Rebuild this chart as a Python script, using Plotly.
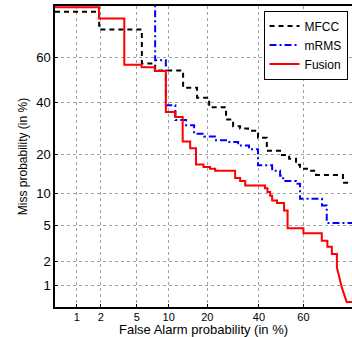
import plotly.graph_objects as go
from statistics import NormalDist

nd = NormalDist()
def probit(v):
    return [nd.inv_cdf(p / 100.0) for p in v]

tick_vals = [1, 2, 5, 10, 20, 40, 60]
tick_text = ["1", "2", "5", "10", "20", "40", "60"]

# MFCC (step points, horizontal-then-vertical), values in %
mfcc_fa = [0.5, 1.91, 5.63, 7.56, 13.2, 16.9, 20.6, 26.5, 29.2, 32.0, 35.3, 39.6, 43.5,
           49.5, 53.6, 56.7, 58.5, 62.0, 65.4, 75.9, 80]
mfcc_miss = [78.1, 71.75, 57.5, 54.3, 46.6, 42.1, 37.95, 32.7, 30.05, 29.1, 28.3, 25.65, 21.1,
             19.8, 18.6, 16.8, 15.7, 15.2, 14.1, 12.2, 12.2]

# mRMS (step points)
mrms_fa = [7.56, 7.56, 9.45, 11.4, 13.95, 16.07, 19.0, 22.9, 27.3, 31.2, 35.7, 39.6, 45.9,
           49.5, 50.9, 56.7, 58.5, 67.9, 69.8, 80]
mrms_miss = [99, 58.9, 38.8, 32.5, 30.4, 27.1, 26.1, 24.7, 24.1, 22.9, 21.6, 16.7, 15.2,
             13.9, 12.6, 11.95, 8.88, 7.75, 5.25, 5.25]

# Fusion (polyline vertices)
fusion_fa = [0.5, 1.9, 1.9, 3.7, 3.7, 5.6, 5.6, 7.5, 7.5, 9.45, 9.45, 11.4, 11.4, 13.1, 13.1,
             15.0, 15.0, 16.6, 16.6, 18.8, 18.8, 20.9, 20.9, 22.6, 22.6, 30.0, 30.0, 32.0, 32.0,
             34.1, 34.1, 42.7, 42.7, 43.8, 43.8, 45.0, 45.0, 45.9, 45.9, 48.1, 48.1, 51.3, 51.3,
             52.9, 52.9, 60.0, 60.0, 67.8, 67.8, 70.05, 70.05, 71.8, 71.8, 73.7, 73.7, 75.5,
             77.2, 80]
fusion_miss = [79.6, 79.6, 75.8, 75.8, 56.9, 56.9, 55.8, 55.8, 54.1, 54.1, 35.9, 35.9, 33.8,
               33.8, 24.3, 24.3, 22.0, 22.0, 16.9, 16.9, 16.2, 16.2, 15.7, 15.7, 15.2, 15.2, 13.3,
               13.3, 12.6, 12.6, 11.6, 11.6, 11.0, 11.0, 10.2, 10.2, 9.44, 9.44, 8.6, 8.6, 8.17,
               8.17, 6.95, 6.95, 4.63, 4.63, 4.1, 4.1, 3.42, 3.42, 2.93, 2.93, 2.42, 2.42, 1.68,
               0.93, 0.59, 0.59]

fig = go.Figure()
fig.add_trace(go.Scatter(x=probit(mfcc_fa), y=probit(mfcc_miss), mode="lines", name="MFCC",
                         line=dict(color="black", width=2, dash="5px,4px", shape="hv")))
fig.add_trace(go.Scatter(x=probit(mrms_fa), y=probit(mrms_miss), mode="lines", name="mRMS",
                         line=dict(color="#0000ff", width=2, dash="7px,3px,2px,3px", shape="hv")))
fig.add_trace(go.Scatter(x=probit(fusion_fa), y=probit(fusion_miss), mode="lines", name="Fusion",
                         line=dict(color="#ff0000", width=2)))

FAM = "Liberation Sans, Arial, sans-serif"
def f(size):
    return dict(family=FAM, size=size, color="black")

axis_common = dict(
    tickvals=probit(tick_vals), ticktext=tick_text,
    showgrid=True, gridcolor="#a0a0a0", griddash="dot", gridwidth=1,
    zeroline=False, showline=True, linecolor="black", linewidth=1.5,
    ticks="inside", ticklen=3, tickcolor="black", automargin=False,
)
fig.update_layout(
    width=352, height=337,
    margin=dict(l=55, r=0, t=6, b=30),
    paper_bgcolor="white", plot_bgcolor="white",
    font=f(12),
    xaxis=dict(range=[nd.inv_cdf(0.005), nd.inv_cdf(0.79)], mirror=True, tickfont=f(11),
               ticklabelstandoff=-1, **axis_common),
    yaxis=dict(range=[nd.inv_cdf(0.005), nd.inv_cdf(0.80)], tickfont=f(13),
               title=dict(text="Miss probability (in %)", font=f(12), standoff=6),
               **axis_common),
    legend=dict(x=0.985, y=0.985, xanchor="right", yanchor="top",
                bgcolor="white", bordercolor="black", borderwidth=1,
                font=f(12), itemwidth=30, tracegroupgap=0),
    showlegend=True,
    annotations=[dict(text="False Alarm probability (in %)", xref="paper", yref="paper",
                      x=0.5, y=-0.104, xanchor="center", yanchor="bottom",
                      showarrow=False, font=f(13), borderpad=0)],
)
fig.write_html("out.html", config={"displayModeBar": False},
               post_script="document.body.style.margin='0';document.body.style.padding='0';")
